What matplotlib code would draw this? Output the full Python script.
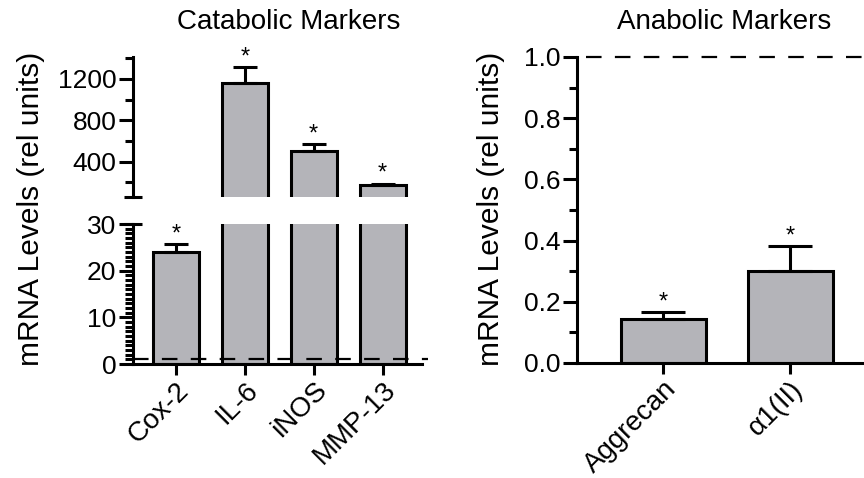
import matplotlib
matplotlib.use("Agg")
import matplotlib.pyplot as plt
from matplotlib.ticker import MultipleLocator, FixedLocator, FormatStrFormatter

plt.rcParams["font.family"] = ["Liberation Sans", "DejaVu Sans"]

# ---------------------------------------------------------------- data
cat_labels = ["Cox-2", "IL-6", "iNOS", "MMP-13"]
cat_means = [24.0, 1160, 505, 176]
cat_err = [1.7, 155, 67, 14]

ana_labels = ["Aggrecan", "α1(II)"]
ana_means = [0.144, 0.302]
ana_err = [0.023, 0.081]

BAR = "#b4b4b9"
LW = 2.2
TICK_FS = 19
XTICK_FS = 20

fig = plt.figure(figsize=(8.64, 4.78), dpi=100)
W, H = 864, 478


def px_axes(x0, y0, x1, y1):
    # pixel box (top-left origin) -> figure axes
    return fig.add_axes([x0 / W, 1 - y1 / H, (x1 - x0) / W, (y1 - y0) / H])


def style(ax):
    for s in ("top", "right"):
        ax.spines[s].set_visible(False)
    for s in ("left", "bottom"):
        ax.spines[s].set_linewidth(LW)
    ax.tick_params(axis="y", which="major", length=10, width=LW, labelsize=TICK_FS, pad=2)
    ax.tick_params(axis="y", which="minor", length=5.5, width=LW)
    ax.tick_params(axis="x", which="major", length=8, width=LW, labelsize=XTICK_FS, pad=1.5)


def bars(ax, means, errs, capsize):
    x = list(range(len(means)))
    ax.bar(x, means, width=0.67, color=BAR, edgecolor="black", linewidth=LW, zorder=2)
    ax.errorbar(x, means, yerr=[[0] * len(errs), errs], fmt="none", ecolor="black",
                elinewidth=LW, capsize=capsize, capthick=LW, zorder=3)


def star(ax, i, top):
    ax.annotate("*", (i, top), xytext=(0, 7), textcoords="offset points",
                ha="center", va="center", fontsize=17, annotation_clip=False)


# ---------------------------------------------------------------- catabolic (broken axis)
ax_top = px_axes(133, 57, 422, 197)
ax_bot = px_axes(133, 224, 422, 364)

for ax in (ax_top, ax_bot):
    style(ax)
    bars(ax, cat_means, cat_err, 8.5)
    ax.set_xlim(-0.62, 3.57)

ax_top.set_ylim(60, 1410)
ax_top.yaxis.set_major_locator(FixedLocator([400, 800, 1200]))
ax_top.yaxis.set_minor_locator(FixedLocator([200, 600, 1000, 1400]))
ax_top.spines["bottom"].set_visible(False)
ax_top.tick_params(axis="x", bottom=False, labelbottom=False)
ax_top.plot([0], [0], transform=ax_top.transAxes, marker="_", ms=13, mew=LW,
            color="black", clip_on=False)
for i in range(1, 4):
    star(ax_top, i, cat_means[i] + cat_err[i])

ax_bot.set_ylim(0, 30)
ax_bot.yaxis.set_major_locator(MultipleLocator(10))
ax_bot.yaxis.set_minor_locator(MultipleLocator(1))
ax_bot.plot([0], [1], transform=ax_bot.transAxes, marker="_", ms=13, mew=LW,
            color="black", clip_on=False)
ax_bot.axhline(1, xmin=0, xmax=1.02, color="black", lw=1.6, dashes=(7, 6),
               zorder=4, clip_on=False)
ax_bot.set_xticks(range(len(cat_labels)))
ax_bot.set_xticklabels(cat_labels, rotation=45, ha="right", va="top",
                       rotation_mode="anchor")
star(ax_bot, 0, cat_means[0] + cat_err[0])

# ---------------------------------------------------------------- anabolic
ax_r = px_axes(577, 57, 869, 363)
style(ax_r)
bars(ax_r, ana_means, ana_err, 15.5)
for i in range(len(ana_means)):
    star(ax_r, i, ana_means[i] + ana_err[i])
ax_r.set_xlim(-0.68, 1.62)
ax_r.set_ylim(0, 1.0)
ax_r.yaxis.set_major_locator(MultipleLocator(0.2))
ax_r.yaxis.set_minor_locator(MultipleLocator(0.1))
ax_r.yaxis.set_major_formatter(FormatStrFormatter("%.1f"))
ax_r.axhline(1.0, xmin=0.03, xmax=1, color="black", lw=1.6, dashes=(7, 6),
             zorder=4, clip_on=False)
ax_r.set_xticks(range(len(ana_labels)))
ax_r.set_xticklabels(ana_labels, rotation=45, ha="right", va="top",
                     rotation_mode="anchor")

# ---------------------------------------------------------------- titles / labels
fig.text(289 / W, 1 - 22 / H, "Catabolic Markers", ha="center", va="center", fontsize=20)
fig.text(724 / W, 1 - 22 / H, "Anabolic Markers", ha="center", va="center", fontsize=20)
fig.text(31 / W, 1 - 209 / H, "mRNA Levels (rel units)", rotation=90,
         ha="center", va="center", fontsize=21.5)
fig.text(491 / W, 1 - 209 / H, "mRNA Levels (rel units)", rotation=90,
         ha="center", va="center", fontsize=21.5)

fig.savefig("out.png", dpi=100)
